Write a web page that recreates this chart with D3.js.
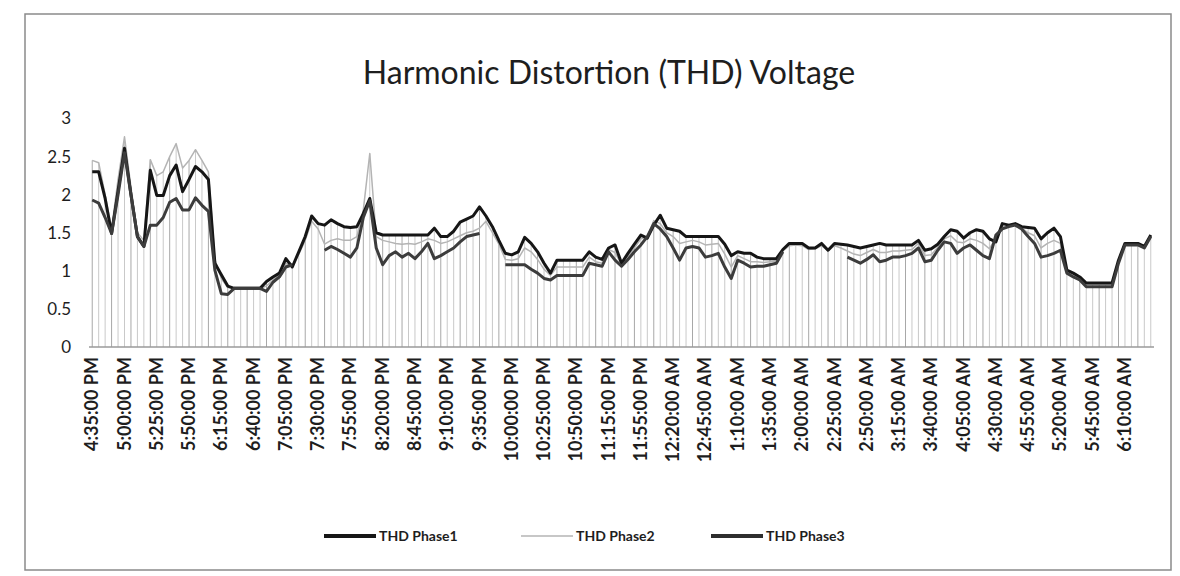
<!DOCTYPE html>
<html>
<head>
<meta charset="utf-8">
<script src="https://cdn.jsdelivr.net/npm/d3@7"></script>
<style>
  body { margin: 0; background: #fff; }
  svg { display: block; }
  text { font-family: Lato, "Open Sans", sans-serif; fill: #1e1e1e; }
</style>
</head>
<body>
<script>
'use strict';

// tick labels, one every 5 readings
let tickLabels = [
  '4:35:00 PM', '5:00:00 PM', '5:25:00 PM', '5:50:00 PM', '6:15:00 PM', '6:40:00 PM',
  '7:05:00 PM', '7:30:00 PM', '7:55:00 PM', '8:20:00 PM', '8:45:00 PM', '9:10:00 PM',
  '9:35:00 PM', '10:00:00 PM', '10:25:00 PM', '10:50:00 PM', '11:15:00 PM', '11:55:00 PM',
  '12:20:00 AM', '12:45:00 AM', '1:10:00 AM', '1:35:00 AM', '2:00:00 AM', '2:25:00 AM',
  '2:50:00 AM', '3:15:00 AM', '3:40:00 AM', '4:05:00 AM', '4:30:00 AM', '4:55:00 AM',
  '5:20:00 AM', '5:45:00 AM', '6:10:00 AM'
];
let labelEvery = 5;

let yTicks = [0, 0.5, 1, 1.5, 2, 2.5, 3];

let phase1 = [
  2.30, 2.30, 1.95, 1.49, 2.05, 2.61, 2.00, 1.45, 1.32, 2.32,
  1.99, 1.99, 2.25, 2.39, 2.04, 2.20, 2.37, 2.30, 2.20, 1.10,
  0.95, 0.80, 0.77, 0.77, 0.77, 0.77, 0.77, 0.86, 0.92, 0.97,
  1.16, 1.05, 1.25, 1.45, 1.72, 1.62, 1.60, 1.67, 1.62, 1.58,
  1.57, 1.58, 1.75, 1.95, 1.50, 1.47, 1.47, 1.47, 1.47, 1.47,
  1.47, 1.47, 1.47, 1.56, 1.45, 1.45, 1.52, 1.64, 1.68, 1.72,
  1.84, 1.72, 1.58, 1.40, 1.23, 1.21, 1.25, 1.44, 1.36, 1.25,
  1.10, 0.97, 1.14, 1.14, 1.14, 1.14, 1.14, 1.25, 1.18, 1.15,
  1.30, 1.34, 1.10, 1.23, 1.35, 1.47, 1.43, 1.60, 1.73, 1.56,
  1.54, 1.52, 1.45, 1.45, 1.45, 1.45, 1.45, 1.45, 1.35, 1.20,
  1.25, 1.23, 1.23, 1.18, 1.16, 1.16, 1.16, 1.28, 1.36, 1.36,
  1.36, 1.30, 1.30, 1.36, 1.27, 1.36, 1.35, 1.34, 1.32, 1.30,
  1.32, 1.34, 1.36, 1.34, 1.34, 1.34, 1.34, 1.34, 1.40, 1.27,
  1.29, 1.35, 1.45, 1.54, 1.52, 1.43, 1.50, 1.54, 1.52, 1.42,
  1.38, 1.62, 1.60, 1.62, 1.58, 1.57, 1.56, 1.42, 1.50, 1.56,
  1.45, 1.01, 0.97, 0.92, 0.84, 0.84, 0.84, 0.84, 0.84, 1.14,
  1.36, 1.36, 1.36, 1.32, 1.47
];

let phase2 = [
  2.45, 2.42, 2.00, 1.55, 2.20, 2.76, 2.10, 1.50, 1.40, 2.46,
  2.25, 2.30, 2.50, 2.67, 2.35, 2.45, 2.59, 2.45, 2.30, 1.15,
  0.90, 0.78, 0.77, 0.77, 0.77, 0.77, 0.77, 0.80, 0.88, 0.95,
  1.10, 1.06, 1.22, 1.40, 1.65, 1.55, 1.35, 1.40, 1.42, 1.40,
  1.40, 1.45, 1.80, 2.54, 1.45, 1.40, 1.38, 1.36, 1.35, 1.36,
  1.35, 1.38, 1.42, 1.40, 1.36, 1.38, 1.42, 1.46, 1.50, 1.52,
  1.56, 1.65, 1.50, 1.35, 1.15, 1.14, 1.16, 1.30, 1.25, 1.15,
  1.02, 0.94, 1.05, 1.05, 1.05, 1.05, 1.05, 1.18, 1.12, 1.10,
  1.28, 1.24, 1.08, 1.19, 1.30, 1.42, 1.44, 1.66, 1.62, 1.50,
  1.45, 1.36, 1.38, 1.40, 1.38, 1.34, 1.35, 1.36, 1.22, 1.05,
  1.20, 1.16, 1.12, 1.12, 1.11, 1.12, 1.13, 1.26, 1.33, 1.34,
  1.33, 1.28, 1.29, 1.33, 1.26, 1.33, 1.30, 1.26, 1.22, 1.20,
  1.24, 1.28, 1.24, 1.24, 1.26, 1.26, 1.27, 1.28, 1.36, 1.20,
  1.21, 1.31, 1.42, 1.46, 1.38, 1.37, 1.42, 1.40, 1.36, 1.29,
  1.43, 1.58, 1.58, 1.60, 1.56, 1.50, 1.46, 1.30, 1.36, 1.40,
  1.36, 0.99, 0.95, 0.90, 0.82, 0.82, 0.82, 0.82, 0.82, 1.12,
  1.35, 1.35, 1.35, 1.31, 1.46
];

// null = no reading (line breaks, as in the sheet)
let phase3 = [
  1.93, 1.89, 1.70, 1.49, 2.00, 2.55, 2.00, 1.45, 1.32, 1.60,
  1.60, 1.70, 1.90, 1.95, 1.80, 1.80, 1.96, 1.86, 1.78, 1.01,
  0.70, 0.69, 0.77, 0.77, 0.77, 0.77, 0.77, 0.73, 0.85, 0.92,
  1.05, 1.08, null, null, null, null, 1.27, 1.32, 1.28, 1.23,
  1.18, 1.30, 1.70, 1.92, 1.30, 1.08, 1.20, 1.25, 1.18, 1.23,
  1.16, 1.25, 1.36, 1.16, 1.20, 1.25, 1.30, 1.38, 1.45, 1.47,
  1.49, null, null, null, 1.08, 1.08, 1.08, 1.08, 1.02, 0.97,
  0.90, 0.88, 0.94, 0.94, 0.94, 0.94, 0.94, 1.10, 1.08, 1.06,
  1.25, 1.14, 1.06, 1.15, 1.25, 1.34, 1.45, 1.62, 1.55, 1.45,
  1.30, 1.14, 1.30, 1.32, 1.30, 1.18, 1.20, 1.23, 1.05, 0.90,
  1.14, 1.10, 1.05, 1.06, 1.06, 1.08, 1.10, 1.25, null, null,
  null, null, null, null, null, null, null, 1.18, 1.14, 1.10,
  1.15, 1.21, 1.12, 1.14, 1.18, 1.18, 1.20, 1.23, 1.30, 1.12,
  1.14, 1.27, 1.38, 1.36, 1.23, 1.30, 1.34, 1.27, 1.20, 1.16,
  1.47, 1.55, 1.58, 1.60, 1.55, 1.45, 1.36, 1.18, 1.20, 1.23,
  1.27, 0.97, 0.92, 0.88, 0.79, 0.79, 0.79, 0.79, 0.79, 1.10,
  1.34, 1.34, 1.34, 1.30, 1.45
];

let seriesNames = ['THD Phase1', 'THD Phase2', 'THD Phase3'];

let width = 1180;
let height = 576;

let n = phase1.length;

let x = d3.scaleBand()
    .domain(d3.range(n))
    .range([89, 1154]);

let cx = (i) => x(i) + x.bandwidth() / 2;

let y = d3.scaleLinear()
    .domain([0, 3])
    .range([347, 118.5]);

let svg = d3.select('body').append('svg')
    .attr('width', width)
    .attr('height', height);

// chart frame
svg.append('rect')
    .attr('x', 25)
    .attr('y', 14)
    .attr('width', 1146)
    .attr('height', 556)
    .attr('fill', '#fff')
    .attr('stroke', '#8a8a8a')
    .attr('stroke-width', 1.5);

svg.append('text')
    .attr('x', 609)
    .attr('y', 84)
    .attr('text-anchor', 'middle')
    .style('font-size', '32px')
    .text('Harmonic Distortion (THD) Voltage');

// drop lines from the highest reading to the axis
let peaks = d3.range(n).map(i => d3.max([phase1[i], phase2[i], phase3[i]]));

svg.append('g').selectAll('line')
  .data(peaks)
  .enter().append('line')
    .attr('x1', (d, i) => cx(i))
    .attr('x2', (d, i) => cx(i))
    .attr('y1', d => y(d))
    .attr('y2', y(0))
    .attr('stroke', (d, i) => i % 3 === 0 ? '#a8a8a8' : '#c9c9c9')
    .attr('stroke-width', 1);

svg.append('line')
    .attr('x1', 89)
    .attr('x2', 1154)
    .attr('y1', y(0))
    .attr('y2', y(0))
    .attr('stroke', '#9a9a9a')
    .attr('stroke-width', 1.5);

// y tick labels
svg.append('g').selectAll('text')
  .data(yTicks)
  .enter().append('text')
    .attr('x', 71)
    .attr('y', d => y(d))
    .attr('dy', '0.35em')
    .attr('text-anchor', 'end')
    .style('font-size', '17px')
    .text(d => d);

// x tick labels
svg.append('g').selectAll('text')
  .data(tickLabels)
  .enter().append('text')
    .attr('transform', (d, i) => 'translate(' + (cx(i * labelEvery) + 6) + ',357) rotate(-90)')
    .attr('text-anchor', 'end')
    .style('font-size', '18px')
    .style('font-weight', 'bold')
    .text(d => d);

let line = d3.line()
    .defined(d => d !== null)
    .x((d, i) => cx(i))
    .y(d => y(d));

let styles = [
  {data: phase2, color: '#b4b4b4', w: 1.5},
  {data: phase1, color: '#161616', w: 3},
  {data: phase3, color: '#3c3c3c', w: 3}
];

svg.append('g').selectAll('path')
  .data(styles)
  .enter().append('path')
    .attr('d', d => line(d.data))
    .attr('fill', 'none')
    .attr('stroke', d => d.color)
    .attr('stroke-width', d => d.w)
    .attr('stroke-linejoin', 'round');

// legend
let legendItems = [
  {name: seriesNames[0], color: '#161616', w: 4, x: 324},
  {name: seriesNames[1], color: '#b4b4b4', w: 1.5, x: 521},
  {name: seriesNames[2], color: '#2e2e2e', w: 4, x: 711}
];

let legend = svg.append('g').selectAll('g')
  .data(legendItems)
  .enter().append('g')
    .attr('transform', d => 'translate(' + d.x + ',536)');

legend.append('line')
    .attr('x1', 0)
    .attr('x2', 52)
    .attr('stroke', d => d.color)
    .attr('stroke-width', d => d.w);

legend.append('text')
    .attr('x', 55)
    .attr('dy', '0.35em')
    .style('font-size', '14px')
    .style('font-weight', 'bold')
    .text(d => d.name);
</script>
</body>
</html>
